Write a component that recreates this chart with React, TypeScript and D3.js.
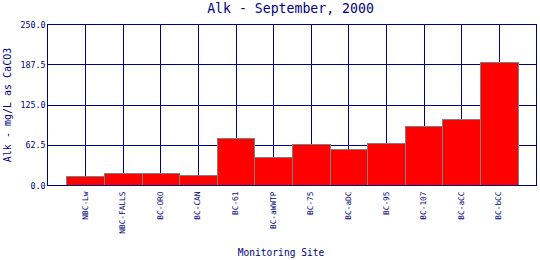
import React from "react";
import * as d3 from "d3";

const title = "Alk - September, 2000";
const xTitle = "Monitoring Site";
const yTitle = "Alk - mg/L as CaCO3";
const sites = ["NBC-Lw", "NBC-FALLS", "BC-ORO", "BC-CAN", "BC-61", "BC-aWWTP", "BC-75", "BC-aDC", "BC-95", "BC-107", "BC-aCC", "BC-bCC"];
const values = [14, 18, 18, 16, 73.4, 43, 63.2, 55.4, 64.8, 91, 102, 191.5];
const yTicks = [0, 62.5, 125, 187.5, 250];

const NAVY = "#000080";
const FONT = "'DejaVu Sans Mono', monospace";

export default function App() {
  const left = 47.5, right = 536.5, top = 24.5, bottom = 185.5;
  const x = d3.scaleBand<string>().domain(sites).range([left, right]).paddingInner(0).paddingOuter(0.5);
  const y = d3.scaleLinear().domain([0, 250]).range([bottom, top]);
  const bw = x.bandwidth();
  const py = (v: number) => Math.round(y(v) - 0.5) + 0.5;
  return (
    <svg width={540} height={260} style={{ position: "absolute", left: 0, top: 0, background: "#fff" }}>
      <rect x={0} y={0} width={540} height={260} fill="#fff" />
      <text x={290.5} y={13} textAnchor="middle" fontFamily={FONT} fontSize={13.2} fill={NAVY}>{title}</text>
      {yTicks.map((t) => (
        <line key={"h" + t} x1={left} x2={right} y1={py(t)} y2={py(t)} stroke={NAVY} strokeWidth={1} />
      ))}
      {sites.map((s) => {
        const cx = Math.round((x(s) as number) + bw / 2) + 0.5;
        return <line key={"v" + s} x1={cx} x2={cx} y1={top} y2={bottom} stroke={NAVY} strokeWidth={1} />;
      })}
      {sites.map((s, i) => {
        const x0 = Math.round(x(s) as number) + 0.5;
        const x1 = Math.round((x(s) as number) + bw) + 0.5;
        const yt = py(values[i]);
        return <rect key={"b" + s} x={x0} y={yt} width={x1 - x0} height={bottom - yt} fill="#ff0000" stroke="#808080" strokeWidth={1} />;
      })}
      <rect x={left} y={top} width={right - left} height={bottom - top} fill="none" stroke={NAVY} strokeWidth={1} />
      {yTicks.map((t) => (
        <text key={"yt" + t} x={45.5} y={y(t) + 3} textAnchor="end" fontFamily={FONT} fontSize={8.3} fill={NAVY}>{t.toFixed(1)}</text>
      ))}
      {sites.map((s) => {
        const cx = (x(s) as number) + bw / 2;
        return (
          <text key={"xt" + s} transform={`translate(${cx + 2.5},${191.5}) rotate(-90)`} textAnchor="end" fontFamily={FONT} fontSize={7.8} fill={NAVY}>{s}</text>
        );
      })}
      <text transform={`translate(11,${(top + bottom) / 2}) rotate(-90)`} textAnchor="middle" fontFamily={FONT} fontSize={10} fill={NAVY}>{yTitle}</text>
      <text x={281} y={256} textAnchor="middle" fontFamily={FONT} fontSize={9.6} fill={NAVY}>{xTitle}</text>
    </svg>
  );
}
